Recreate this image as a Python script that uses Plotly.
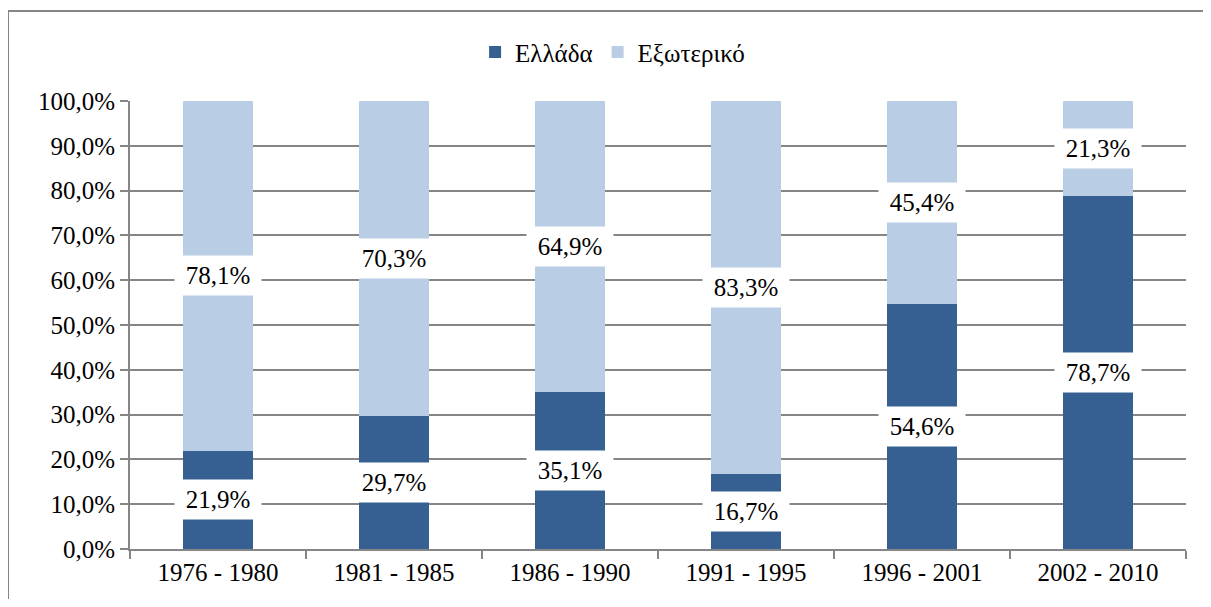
import plotly.graph_objects as go

periods = ["1976 - 1980", "1981 - 1985", "1986 - 1990", "1991 - 1995", "1996 - 2001", "2002 - 2010"]
greece = [21.9, 29.7, 35.1, 16.7, 54.6, 78.7]
abroad = [78.1, 70.3, 64.9, 83.3, 45.4, 21.3]
series_names = ["Ελλάδα", "Εξωτερικό"]
y_ticks = [0, 10, 20, 30, 40, 50, 60, 70, 80, 90, 100]

DARK = "#366092"
LIGHT = "#B9CDE5"
GRID = "#868686"
FONT = "Liberation Serif"


def fmt(v):
    return f"{v:.1f}".replace(".", ",") + "%"


y_ticktext = [fmt(v) for v in y_ticks]

fig = go.Figure()
fig.add_trace(go.Bar(x=periods, y=greece, name=series_names[0], marker=dict(color=DARK, line=dict(width=0))))
fig.add_trace(go.Bar(x=periods, y=abroad, name=series_names[1], marker=dict(color=LIGHT, line=dict(width=0))))

annotations = []
for p, g, a in zip(periods, greece, abroad):
    for yc, v in ((g / 2, g), (g + a / 2, a)):
        annotations.append(dict(x=p, y=yc, xref="x", yref="y", text=fmt(v), showarrow=False,
                                bgcolor="white", borderpad=6, width=74, height=27,
                                font=dict(size=25, color="black", family=FONT)))

# page has an 8px body margin, so the figure is 16px smaller than the window
fig.update_layout(
    barmode="stack",
    bargap=0.6,
    width=1195,
    height=591,
    margin=dict(l=122, r=17, t=93, b=50),
    paper_bgcolor="white",
    plot_bgcolor="white",
    font=dict(family=FONT, size=25, color="black"),
    legend=dict(orientation="h", x=0.457, y=1.109, xanchor="center", yanchor="middle",
                font=dict(size=25, family=FONT, color="black"), itemclick=False, traceorder="normal"),
    annotations=annotations,
    shapes=[dict(type="rect", xref="paper", yref="paper", x0=-0.1155, x1=1.1, y0=-0.3, y1=1.2009,
                 line=dict(color=GRID, width=2), fillcolor="rgba(0,0,0,0)", layer="below")],
)
fig.update_xaxes(showline=True, linecolor=GRID, linewidth=2, ticks="outside", ticklen=8, tickwidth=2,
                 tickcolor=GRID, tickson="boundaries", showgrid=False,
                 tickfont=dict(size=25, family=FONT, color="black"))
fig.update_yaxes(range=[0, 100], tickmode="array", tickvals=y_ticks, ticktext=y_ticktext,
                 showline=True, linecolor=GRID, linewidth=2, ticks="outside", ticklen=8, tickwidth=2,
                 tickcolor=GRID, showgrid=True, gridcolor=GRID, gridwidth=2, zeroline=False,
                 tickfont=dict(size=25, family=FONT, color="black"))

fig.write_html("out.html", config={"displayModeBar": False})
